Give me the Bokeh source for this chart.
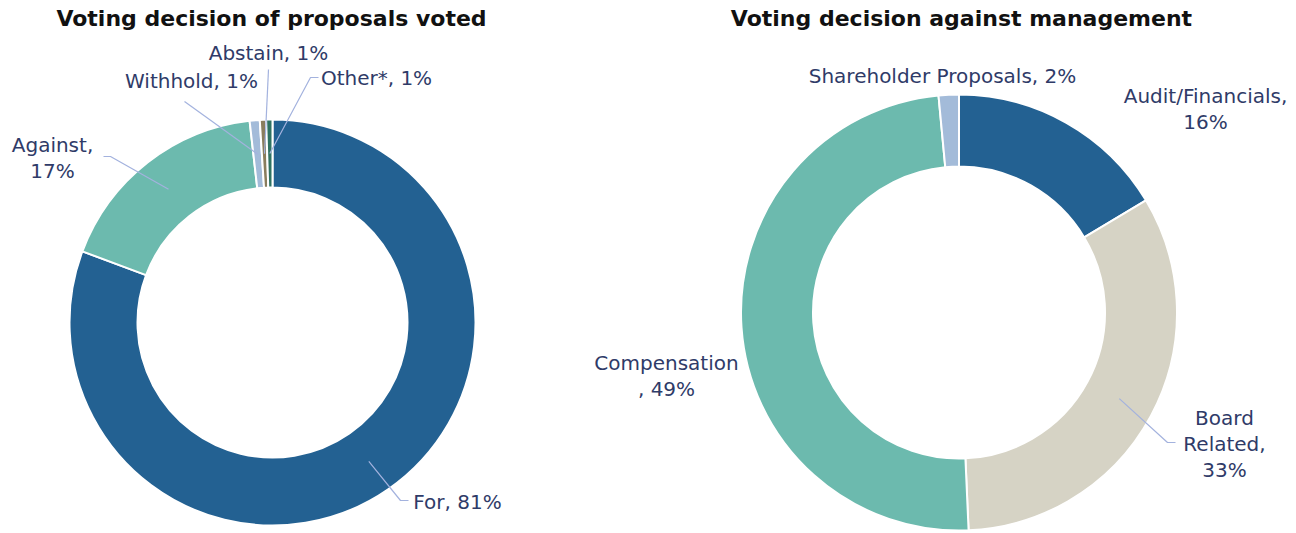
import math
from bokeh.plotting import figure
from bokeh.models import Range1d
from bokeh.core.properties import value
from bokeh.embed import file_html
from bokeh.resources import INLINE

# ---------------- data ----------------
left_title = "Voting decision of proposals voted"
left_cats = ["For", "Against", "Withhold", "Abstain", "Other*"]
left_vals = [80.7, 17.5, 0.8, 0.5, 0.5]
left_labels = ["For, 81%", "Against,\n17%", "Withhold, 1%", "Abstain, 1%", "Other*, 1%"]

right_title = "Voting decision against management"
right_cats = ["Audit/Financials", "Board Related", "Compensation", "Shareholder Proposals"]
right_vals = [16.4, 32.9, 49.2, 1.5]
right_labels = ["Audit/Financials,\n16%", "Board\nRelated,\n33%", "Compensation\n, 49%", "Shareholder Proposals, 2%"]

# ---------------- styles / layout ----------------
W, H = 1296, 533
FONT = "DejaVu Sans"
TXT = "#2F3B68"
LEADER = "#A3B2DE"
left_colors = ["#236192", "#6CBAAE", "#A3BBD9", "#8A7D5E", "#2E7262"]
right_colors = ["#236192", "#D6D3C5", "#6CBAAE", "#A3BBD9"]


def S(x, y):
    """screen pixel -> data coords"""
    return (x, H - y)


left_geo = dict(c=S(272, 322), r_in=135, r_out=203)
right_geo = dict(c=S(958.5, 312), r_in=146, r_out=218)

# label anchor (center of text block) and optional leader start/elbow points
left_lab_pos = [S(457, 501), S(52, 157), S(191, 80), S(268, 52), S(376, 77)]
left_leader = [[S(408, 500), S(400, 500)], [S(103, 156), S(110, 156)], [S(184, 101)], [S(268, 69)],
               [S(318, 77), S(310, 77)]]
right_lab_pos = [S(1205, 108), S(1224, 443), S(666, 375), S(942, 75)]
right_leader = [None, [S(1175, 442), S(1167, 442)], None, None]

LINE_H = 26

p = figure(width=W, height=H, x_range=Range1d(0, W), y_range=Range1d(0, H),
           output_backend="svg", toolbar_location=None, min_border=0,
           x_axis_type=None, y_axis_type=None, outline_line_color=None)
p.grid.visible = False
p.background_fill_color = "white"
p.border_fill_color = "white"


def donut(vals, colors, geo, labels, lab_pos, leaders):
    total = sum(vals)
    cx, cy = geo["c"]
    cum = 0.0
    starts, ends, mids = [], [], []
    for v in vals:
        a0 = math.pi / 2 - 2 * math.pi * (cum + v) / total
        a1 = math.pi / 2 - 2 * math.pi * cum / total
        starts.append(a0)
        ends.append(a1)
        mids.append((a0 + a1) / 2)
        cum += v
    p.annular_wedge(x=cx, y=cy, inner_radius=geo["r_in"], outer_radius=geo["r_out"],
                    start_angle=starts, end_angle=ends, fill_color=colors,
                    line_color="white", line_width=2)
    rm = (geo["r_in"] + geo["r_out"]) / 2
    for lab, pos, ld, m in zip(labels, lab_pos, leaders, mids):
        if ld is not None:
            ex = cx + rm * math.cos(m)
            ey = cy + rm * math.sin(m)
            xs = [pt[0] for pt in ld] + [ex]
            ys = [pt[1] for pt in ld] + [ey]
            p.line(xs, ys, line_color=LEADER, line_width=1.2)
        lines = lab.split("\n")
        n = len(lines)
        for i, t in enumerate(lines):
            y = pos[1] + (n - 1) / 2 * LINE_H - i * LINE_H
            p.text(x=[pos[0]], y=[y], text=[t], text_align="center", text_baseline="middle",
                   text_font=value(FONT), text_font_size="20px", text_color=TXT)


donut(left_vals, left_colors, left_geo, left_labels, left_lab_pos, left_leader)
donut(right_vals, right_colors, right_geo, right_labels, right_lab_pos, right_leader)

for t, x in [(left_title, 271), (right_title, 961)]:
    tx, ty = S(x, 18)
    p.text(x=[tx], y=[ty], text=[t], text_align="center", text_baseline="middle",
           text_font=value(FONT), text_font_size="22px", text_font_style="bold", text_color="#111111")

open("out.html", "w").write(file_html(p, INLINE))
